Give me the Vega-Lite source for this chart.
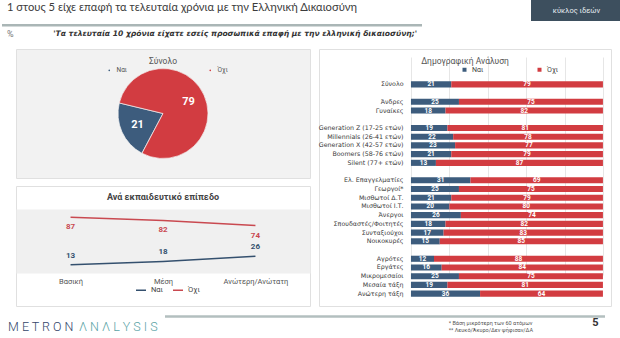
{
  "$schema": "https://vega.github.io/schema/vega-lite/v6.json",
  "padding": 0,
  "background": "white",
  "spacing": 5,
  "resolve": {"scale": {"color": "independent"}, "legend": {"color": "independent"}},
  "config": {
    "view": {"stroke": null},
    "font": "Roboto",
    "axis": {"labelFont": "Roboto"},
    "legend": {"labelFont": "Roboto"},
    "title": {"font": "Roboto"}
  },
  "datasets": {
    "pie": [
      {"r": "Ναι", "v": 21},
      {"r": "Όχι", "v": 79}
    ],
    "edu": [
      {"e": "Βασική", "r": "Ναι", "v": 13},
      {"e": "Μέση", "r": "Ναι", "v": 18},
      {"e": "Ανώτερη/Ανώτατη", "r": "Ναι", "v": 26},
      {"e": "Βασική", "r": "Όχι", "v": 87},
      {"e": "Μέση", "r": "Όχι", "v": 82},
      {"e": "Ανώτερη/Ανώτατη", "r": "Όχι", "v": 74}
    ],
    "bars": [
      {"g": "Σύνολο", "r": "Ναι", "v": 21}, {"g": "Σύνολο", "r": "Όχι", "v": 79},
      {"g": "Άνδρες", "r": "Ναι", "v": 25}, {"g": "Άνδρες", "r": "Όχι", "v": 75},
      {"g": "Γυναίκες", "r": "Ναι", "v": 18}, {"g": "Γυναίκες", "r": "Όχι", "v": 82},
      {"g": "Generation Z (17-25 ετών)", "r": "Ναι", "v": 19}, {"g": "Generation Z (17-25 ετών)", "r": "Όχι", "v": 81},
      {"g": "Millennials (26-41 ετών)", "r": "Ναι", "v": 22}, {"g": "Millennials (26-41 ετών)", "r": "Όχι", "v": 78},
      {"g": "Generation X (42-57 ετών)", "r": "Ναι", "v": 23}, {"g": "Generation X (42-57 ετών)", "r": "Όχι", "v": 77},
      {"g": "Boomers (58-76 ετών)", "r": "Ναι", "v": 21}, {"g": "Boomers (58-76 ετών)", "r": "Όχι", "v": 79},
      {"g": "Silent (77+ ετών)", "r": "Ναι", "v": 13}, {"g": "Silent (77+ ετών)", "r": "Όχι", "v": 87},
      {"g": "Ελ. Επαγγελματίες", "r": "Ναι", "v": 31}, {"g": "Ελ. Επαγγελματίες", "r": "Όχι", "v": 69},
      {"g": "Γεωργοί*", "r": "Ναι", "v": 25}, {"g": "Γεωργοί*", "r": "Όχι", "v": 75},
      {"g": "Μισθωτοί Δ.Τ.", "r": "Ναι", "v": 21}, {"g": "Μισθωτοί Δ.Τ.", "r": "Όχι", "v": 79},
      {"g": "Μισθωτοί Ι.Τ.", "r": "Ναι", "v": 20}, {"g": "Μισθωτοί Ι.Τ.", "r": "Όχι", "v": 80},
      {"g": "Άνεργοι", "r": "Ναι", "v": 26}, {"g": "Άνεργοι", "r": "Όχι", "v": 74},
      {"g": "Σπουδαστές/Φοιτητές", "r": "Ναι", "v": 18}, {"g": "Σπουδαστές/Φοιτητές", "r": "Όχι", "v": 82},
      {"g": "Συνταξιούχοι", "r": "Ναι", "v": 17}, {"g": "Συνταξιούχοι", "r": "Όχι", "v": 83},
      {"g": "Νοικοκυρές", "r": "Ναι", "v": 15}, {"g": "Νοικοκυρές", "r": "Όχι", "v": 85},
      {"g": "Αγρότες", "r": "Ναι", "v": 12}, {"g": "Αγρότες", "r": "Όχι", "v": 88},
      {"g": "Εργάτες", "r": "Ναι", "v": 16}, {"g": "Εργάτες", "r": "Όχι", "v": 84},
      {"g": "Μικρομεσαίοι", "r": "Ναι", "v": 25}, {"g": "Μικρομεσαίοι", "r": "Όχι", "v": 75},
      {"g": "Μεσαία τάξη", "r": "Ναι", "v": 19}, {"g": "Μεσαία τάξη", "r": "Όχι", "v": 81},
      {"g": "Ανώτερη τάξη", "r": "Ναι", "v": 36}, {"g": "Ανώτερη τάξη", "r": "Όχι", "v": 64}
    ]
  },
  "vconcat": [
    {
      "spacing": 107,
      "hconcat": [
        {
          "width": 420,
          "height": 43,
          "data": {"values": [
            {"k": "%", "y": "h", "t": "1 στους 5 είχε επαφή τα τελευταία χρόνια με την Ελληνική Δικαιοσύνη"},
            {"k": "%", "y": "q", "t": "%"},
            {"k": "q", "y": "q", "t": "'Τα τελευταία 10 χρόνια είχατε εσείς προσωπικά επαφή με την ελληνική δικαιοσύνη;'"}
          ]},
          "layer": [
            {"data": {"values": [{}]}, "mark": {"type": "rule", "color": "#aab6b6", "strokeWidth": 2.5},
             "encoding": {"y": {"datum": "line", "type": "nominal", "scale": {"type": "point", "domain": ["h", "s", "line", "q"], "padding": 1.19, "align": 0.474}, "axis": null}}},
            {"transform": [{"filter": "datum.y === 'h'"}], "mark": {"type": "text", "align": "left", "font": "Lato", "fontSize": 11.2, "color": "#3c3c3c"},
             "encoding": {
               "x": {"field": "k", "type": "nominal", "scale": {"type": "point", "domain": ["%", "q"], "padding": 0.012}, "axis": null},
               "y": {"field": "y", "type": "nominal", "scale": {"type": "point", "domain": ["h", "s", "line", "q"], "padding": 1.19, "align": 0.474}, "axis": null},
               "text": {"field": "t"}}},
            {"transform": [{"filter": "datum.y === 'q' && datum.k === '%'"}], "mark": {"type": "text", "align": "left", "fontSize": 9, "color": "#777"},
             "encoding": {
               "x": {"field": "k", "type": "nominal", "scale": {"type": "point", "domain": ["%", "q"], "padding": 0.012}, "axis": null},
               "y": {"field": "y", "type": "nominal", "scale": {"type": "point", "domain": ["h", "s", "line", "q"], "padding": 1.19, "align": 0.474}, "axis": null},
               "text": {"field": "t"}}},
            {"transform": [{"filter": "datum.k === 'q'"}], "mark": {"type": "text", "align": "right", "font": "DejaVu Sans", "fontSize": 7.6, "fontWeight": "bold", "fontStyle": "italic", "color": "#333"},
             "encoding": {
               "x": {"field": "k", "type": "nominal", "scale": {"type": "point", "domain": ["%", "q"], "padding": 0.012}, "axis": null},
               "y": {"field": "y", "type": "nominal", "scale": {"type": "point", "domain": ["h", "s", "line", "q"], "padding": 1.19, "align": 0.474}, "axis": null},
               "text": {"field": "t"}}}
          ]
        },
        {
          "width": 91,
          "height": 21,
          "view": {"fill": "#3d4f5e", "stroke": null},
          "data": {"values": [{"t": "κύκλος ιδεών"}]},
          "mark": {"type": "text", "color": "#e8eef2", "fontSize": 7.5},
          "encoding": {"text": {"field": "t"}}
        }
      ]
    },
    {
      "spacing": 6,
      "resolve": {"scale": {"color": "independent"}, "legend": {"color": "independent"}},
      "hconcat": [
        {"width": 7, "height": 1, "data": {"values": []}, "mark": "point"},
        {
          "spacing": 8,
          "bounds": "flush",
          "resolve": {"scale": {"color": "independent"}, "legend": {"color": "independent"}},
          "vconcat": [
            {
              "width": 294,
              "height": 129,
              "view": {"fill": "#f2f2f2", "stroke": "#e0e0e0"},
              "title": {"text": "Σύνολο", "offset": -16, "fontSize": 8.5, "fontWeight": "normal", "color": "#555"},
              "data": {"name": "pie"},
              "encoding": {
                "theta": {"field": "v", "type": "quantitative", "stack": true, "scale": {"range": [3.63, 9.91]}},
                "order": {"field": "r", "sort": "descending"},
                "color": {"field": "r", "type": "nominal", "scale": {"domain": ["Ναι", "Όχι"], "range": ["#3d5c7d", "#d23c41"]},
                          "legend": {"orient": "none", "legendX": 90, "legendY": 18, "direction": "horizontal", "title": null, "symbolType": "circle", "symbolSize": 10, "labelFontSize": 6.5, "labelColor": "#555", "columnPadding": 78}}
              },
              "layer": [
                {"mark": {"type": "arc", "outerRadius": 45, "stroke": "#f4f4f4", "strokeWidth": 0.7}},
                {"mark": {"type": "text", "radius": 28, "fontSize": 11, "fontWeight": "bold"},
                 "encoding": {"text": {"field": "v"}, "color": {"value": "white"}, "detail": {"field": "r"}}}
              ]
            },
            {
              "width": 294,
              "height": 120,
              "view": {"fill": "white", "stroke": "#e0e0e0"},
              "title": {"text": "Ανά εκπαιδευτικό επίπεδο", "offset": -16, "fontSize": 9, "fontWeight": "bold", "color": "#444"},
              "data": {"name": "edu"},
              "encoding": {
                "x": {"field": "e", "type": "nominal", "sort": ["Βασική", "Μέση", "Ανώτερη/Ανώτατη"], "scale": {"type": "point", "padding": 0.59},
                      "axis": {"title": null, "labelAngle": 0, "ticks": false, "domain": false, "grid": false, "labelFontSize": 7.5, "labelColor": "#555", "labelPadding": 3, "offset": -32}},
                "y": {"field": "v", "type": "quantitative", "scale": {"domain": [-51.6, 135.9], "nice": false, "zero": false},
                      "axis": {"title": null, "labels": false, "ticks": false, "domain": false, "grid": true, "gridColor": "#f0f0f0", "gridWidth": 64, "values": [50]}},
                "color": {"field": "r", "type": "nominal", "scale": {"domain": ["Ναι", "Όχι"], "range": ["#34506e", "#c94950"]},
                          "legend": {"orient": "none", "legendX": 119, "legendY": 98, "direction": "horizontal", "title": null, "symbolType": "stroke", "symbolSize": 100, "symbolStrokeWidth": 1.5, "labelFontSize": 7.5, "labelColor": "#444", "columnPadding": 6}}
              },
              "layer": [
                {"mark": {"type": "line", "strokeWidth": 1.5}},
                {"transform": [{"filter": "datum.r === 'Όχι'"}], "mark": {"type": "text", "dy": 10, "fontSize": 8, "fontWeight": "bold"}, "encoding": {"text": {"field": "v"}}},
                {"transform": [{"filter": "datum.r === 'Ναι'"}], "mark": {"type": "text", "dy": -9, "fontSize": 8, "fontWeight": "bold"}, "encoding": {"text": {"field": "v"}}}
              ]
            }
          ]
        },
        {
          "width": 292,
          "height": 257,
          "view": {"fill": "white", "stroke": "#e0e0e0"},
          "title": {"text": "Δημογραφική Ανάλυση", "offset": -16, "fontSize": 8.5, "fontWeight": "normal", "color": "#555"},
          "data": {"name": "bars"},
          "encoding": {
            "y": {"field": "g", "type": "nominal",
                  "scale": {"domain": ["Σύνολο", " ", "Άνδρες", "Γυναίκες", "  ", "Generation Z (17-25 ετών)", "Millennials (26-41 ετών)", "Generation X (42-57 ετών)", "Boomers (58-76 ετών)", "Silent (77+ ετών)", "   ", "Ελ. Επαγγελματίες", "Γεωργοί*", "Μισθωτοί Δ.Τ.", "Μισθωτοί Ι.Τ.", "Άνεργοι", "Σπουδαστές/Φοιτητές", "Συνταξιούχοι", "Νοικοκυρές", "    ", "Αγρότες", "Εργάτες", "Μικρομεσαίοι", "Μεσαία τάξη", "Ανώτερη τάξη"],
                            "range": [31, 249], "paddingInner": 0.3, "paddingOuter": 0.15},
                  "axis": {"title": null, "ticks": false, "domain": false, "labelFont": "DejaVu Sans", "labelFontSize": 6.3, "labelColor": "#3a3a3a", "labelPadding": 8, "offset": -92}},
            "x": {"field": "v", "type": "quantitative", "stack": "zero", "scale": {"domain": [-47.9, 104.2], "nice": false, "zero": false},
                  "axis": {"title": null, "labels": false, "ticks": false, "domain": false, "grid": true, "gridColor": "#e6e6e6", "values": [0, 20, 40, 60, 80, 100]}},
            "order": {"field": "r", "sort": "descending"},
            "color": {"field": "r", "type": "nominal", "scale": {"domain": ["Ναι", "Όχι"], "range": ["#3d5c7d", "#d23c41"]},
                      "legend": {"orient": "none", "legendX": 142, "legendY": 17, "direction": "horizontal", "title": null, "symbolType": "square", "symbolSize": 16, "labelFontSize": 7, "labelColor": "#444", "columnPadding": 52}}
          },
          "layer": [
            {"mark": {"type": "bar"}},
            {"mark": {"type": "text", "fontSize": 6.5, "fontWeight": "bold"},
             "encoding": {"x": {"field": "v", "type": "quantitative", "stack": "zero", "bandPosition": 0.5}, "text": {"field": "v"}, "color": {"value": "white"}, "detail": {"field": "r"}}}
          ]
        }
      ]
    },
    {
      "spacing": 5,
      "resolve": {"scale": {"color": "independent"}, "legend": {"color": "independent"}},
      "hconcat": [
        {
          "width": 155,
          "height": 28,
          "data": {"values": [{"p": "METRON", "t": "M E T R O N"}, {"p": "ANALYSIS", "t": "Λ N Λ L Y S I S"}]},
          "mark": {"type": "text", "fontSize": 12.5, "fontWeight": 300, "dy": 1.3},
          "encoding": {
            "x": {"field": "p", "type": "nominal", "scale": {"type": "point", "domain": ["METRON", "ANALYSIS"], "padding": 0.5}, "axis": null},
            "text": {"field": "t"},
            "color": {"field": "p", "type": "nominal", "scale": {"domain": ["METRON", "ANALYSIS"], "range": ["#34466a", "#5aa3a6"]}, "legend": null}
          }
        },
        {
          "width": 440,
          "height": 28,
          "data": {"values": [
            {"c": "note", "k": "n1", "t": "* Βάση μικρότερη των 60 ατόμων"},
            {"c": "note", "k": "n2", "t": "** Λευκό/Άκυρο/Δεν ψήφισαν/ΔΑ"},
            {"c": "page", "k": "n1", "t": "5"}
          ]},
          "layer": [
            {"data": {"values": [{}]}, "mark": {"type": "rule", "color": "#b3bfbf", "strokeWidth": 2.5},
             "encoding": {"y": {"datum": "rule", "type": "nominal", "scale": {"type": "point", "domain": ["rule", "n1", "n2"], "padding": 1.258, "align": 0.3205}, "axis": null}}},
            {"transform": [{"filter": "datum.c === 'note'"}], "mark": {"type": "text", "align": "left", "fontSize": 5.5, "color": "#555"},
             "encoding": {
               "x": {"field": "c", "type": "nominal", "scale": {"type": "point", "domain": ["note", "page"], "padding": 1.13, "align": 0.967}, "axis": null},
               "y": {"field": "k", "type": "nominal", "scale": {"type": "point", "domain": ["rule", "n1", "n2"], "padding": 1.258, "align": 0.3205}, "axis": null},
               "text": {"field": "t"}}},
            {"transform": [{"filter": "datum.c === 'page'"}], "mark": {"type": "text", "fontSize": 11, "fontWeight": "bold", "color": "#333"},
             "encoding": {
               "x": {"field": "c", "type": "nominal", "scale": {"type": "point", "domain": ["note", "page"], "padding": 1.13, "align": 0.967}, "axis": null},
               "y": {"field": "k", "type": "nominal", "scale": {"type": "point", "domain": ["rule", "n1", "n2"], "padding": 1.258, "align": 0.3205}, "axis": null},
               "text": {"field": "t"}}}
          ]
        }
      ]
    }
  ]
}
